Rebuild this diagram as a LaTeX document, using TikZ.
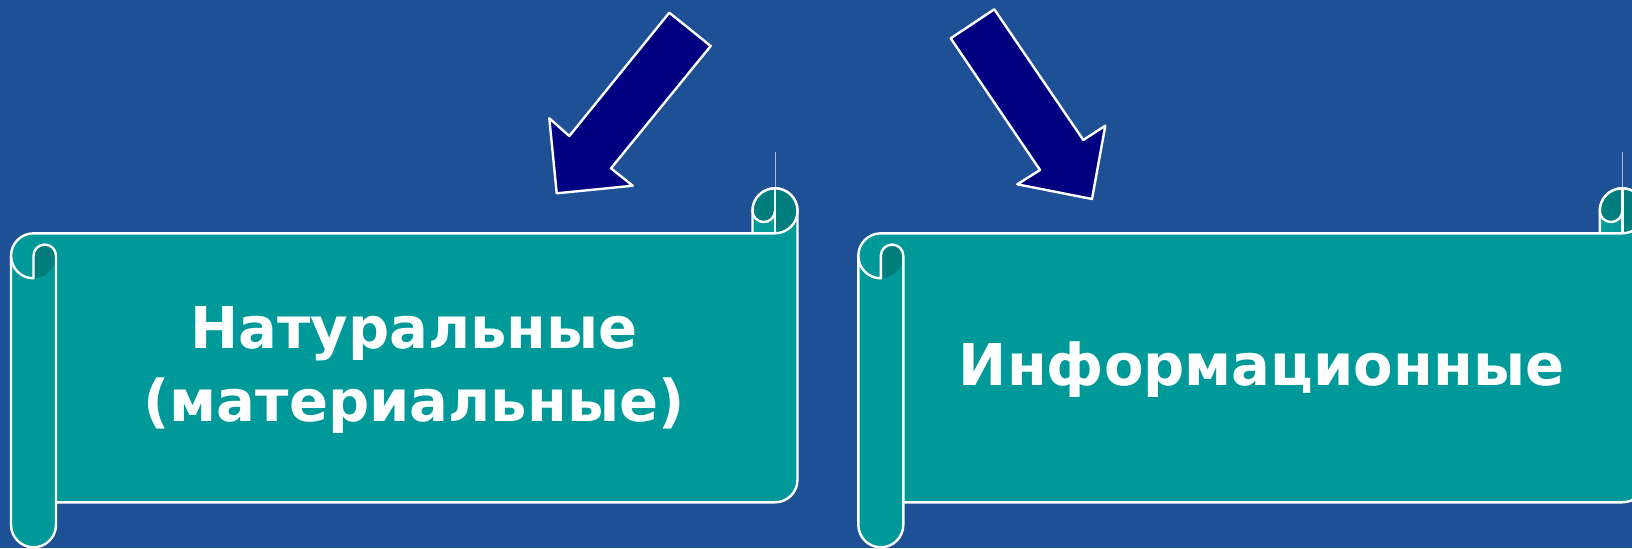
\documentclass[tikz,border=0pt]{standalone}
\usepackage{fontspec}
\setmainfont{DejaVu Sans}
\usetikzlibrary{positioning}
\definecolor{bgblue}{RGB}{30,80,150}
\definecolor{scrollteal}{RGB}{0,153,153}
\definecolor{scrolldark}{RGB}{0,126,126}
\definecolor{arrownavy}{RGB}{0,0,128}

\begin{document}
\begin{tikzpicture}[x=0.5pt, y=0.5pt,
    outline/.style={draw=white, line width=1.2pt, line join=round},
    blockarrow/.style={outline, fill=arrownavy},
    title/.style={text=white, font=\bfseries\fontsize{28.8}{36.7}\selectfont, align=center},
    scroll/.pic={
        % body and left roll
        \draw[outline, fill=scrollteal] (0,-67.5) arc[start angle=180, end angle=90, radius=22.5]
            -- (741.5,-45) -- (741.5,-22.5) arc[start angle=180, end angle=0, radius=22.5]
            -- (786.5,-291.5) arc[start angle=0, end angle=-90, radius=22.5]
            -- (45,-314) -- (45,-336.5) arc[start angle=0, end angle=-180, radius=22.5] -- cycle;
        % back of the curls
        \fill[scrolldark] (22.5,-67.5) arc[start angle=180, end angle=0, radius=11.25]
            arc[start angle=0, end angle=-90, radius=22.5] -- cycle;
        \fill[scrolldark] (741.5,-22.5) arc[start angle=180, end angle=0, radius=22.5]
            arc[start angle=0, end angle=-90, radius=22.5] -- (764,-22.5)
            arc[start angle=0, end angle=-180, radius=11.25] -- cycle;
        % curl lines
        \draw[outline] (0,-67.5) arc[start angle=180, end angle=270, radius=22.5] -- (22.5,-67.5)
            arc[start angle=180, end angle=0, radius=11.25] -- (45,-314);
        \draw[outline] (741.5,-22.5) arc[start angle=180, end angle=0, radius=22.5]
            arc[start angle=0, end angle=-90, radius=22.5] -- (741.5,-45);
        \draw[outline] (741.5,-22.5) arc[start angle=180, end angle=360, radius=11.25];
        \draw[outline] (764,0) -- (764,-45);
        \draw[white, line width=0.4pt, opacity=0.6] (764,0) -- (764,36);
    }]
    \useasboundingbox (0,0) rectangle (1632,-548);
    \clip (0,0) rectangle (1632,-548);
    \fill[bgblue] (0,0) rectangle (1632,-548);

    \pic (natscroll) at (11,-188.3) {scroll};
    \pic (infscroll) at (858.3,-188.3) {scroll};

    \draw[blockarrow] (669.3,-12.7) -- (710.7,-46) -- (611,-168.3) -- (632.7,-185.7)
        -- (556.7,-193.3) -- (549.3,-118.3) -- (569.3,-136) -- cycle;
    \draw[blockarrow] (994.3,-9.3) -- (950.7,-38.3) -- (1040,-170) -- (1017.3,-184.3)
        -- (1092,-199) -- (1105.3,-125.7) -- (1083.3,-140) -- cycle;

    \node[title] (nat) at (414,-370) {Натуральные\\(материальные)};
    \node[title, anchor=base] (inf) at (1261.5,-385) {Информационные};
\end{tikzpicture}
\end{document}
